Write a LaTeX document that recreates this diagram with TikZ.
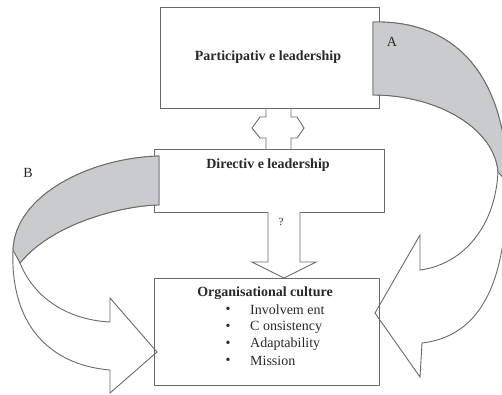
\documentclass[tikz,border=0pt]{standalone}
\usepackage{fontspec}
\setmainfont{Liberation Serif}
\definecolor{linegray}{RGB}{105,105,105}
\definecolor{bandgray}{RGB}{201,203,206}
\definecolor{textgray}{RGB}{40,40,40}
\begin{document}
\begin{tikzpicture}[x=1pt,y=-1pt,
  outline/.style={draw=linegray, line width=0.9pt, line join=miter},
  band/.style={outline, fill=bandgray},
  body/.style={outline, fill=white},
  box/.style={outline, inner sep=0pt},
  title/.style={font=\fontsize{14}{16}\selectfont\bfseries, text=textgray, inner sep=0pt},
  item/.style={font=\fontsize{14}{16}\selectfont, text=textgray, inner sep=0pt, anchor=west},
  letter/.style={font=\fontsize{14}{16}\selectfont, text=textgray, inner sep=0pt},
]
\useasboundingbox (0,0) rectangle (502,394);

% curved arrow B: ribbon from the directive box round to the culture box
\path[body] (159,156) .. controls (90,158) and (15,195) .. (13,250)
  .. controls (10,325) and (50,365) .. (110,370)
  -- (110,393) -- (157,352) -- (110,298) -- (110,322)
  .. controls (70,320) and (35,300) .. (20,263)
  .. controls (55,220) and (130,205) .. (159,205) -- cycle;

% curved arrow A: ribbon from the participative box round to the culture box
\path[body] (373,22) .. controls (470,20) and (507,95) .. (507,182)
  .. controls (507,265) and (490,335) .. (422,343)
  -- (420,377) -- (375,313) -- (420,235) -- (420,270)
  .. controls (460,265) and (495,230) .. (498,172)
  .. controls (495,130) and (440,95) .. (373,95) -- cycle;

% boxes
\node[box, minimum width=219pt, minimum height=101pt] (pl) at (269.5,57.5) {};
\node[box, minimum width=230pt, minimum height=63pt] (dl) at (269,180.5) {};
\node[box, minimum width=225pt, minimum height=107pt] (oc) at (266.5,331.5) {};

% shaded back faces of the ribbons
\path[band] (159,156) .. controls (90,158) and (15,195) .. (13,250)
  -- (20,263) .. controls (55,220) and (130,205) .. (159,205) -- cycle;
\path[band] (373,22) .. controls (470,20) and (507,95) .. (507,182)
  -- (498,172) .. controls (495,130) and (440,95) .. (373,95) -- cycle;

% two-way link between the leadership boxes
\path[body] (266,108) -- (266,117) -- (260,117) -- (252,128) -- (260,138)
  -- (266,138) -- (266,149);
\path[body] (291,108) -- (291,117) -- (297,117) -- (304,128) -- (297,138)
  -- (291,138) -- (291,149);

% block arrow from directive leadership down to culture
\path[body] (268,212) -- (268,262) -- (252,262) -- (284,278) -- (316,262)
  -- (300,262) -- (300,212);

% texts
\node[title] (plt) at (268,57) {Participativ e leadership};
\node[title] (dlt) at (268,165) {Directiv e leadership};
\node[title] (oct) at (265,293) {Organisational culture};

\node[letter] (b1) at (228,310) {\textbullet};
\node[letter] (b2) at (228,327) {\textbullet};
\node[letter] (b3) at (228,344) {\textbullet};
\node[letter] (b4) at (228,361) {\textbullet};
\node[item] (i1) at (250,310) {Involvem ent};
\node[item] (i2) at (250,327) {C onsistency};
\node[item] (i3) at (250,344) {Adaptability};
\node[item] (i4) at (250,361) {Mission};

\node[letter] (la) at (392,42) {A};
\node[letter] (lb) at (28,173) {B};
\node[letter, font=\fontsize{11}{11}\selectfont] (mark) at (281,222) {?};
\end{tikzpicture}
\end{document}
